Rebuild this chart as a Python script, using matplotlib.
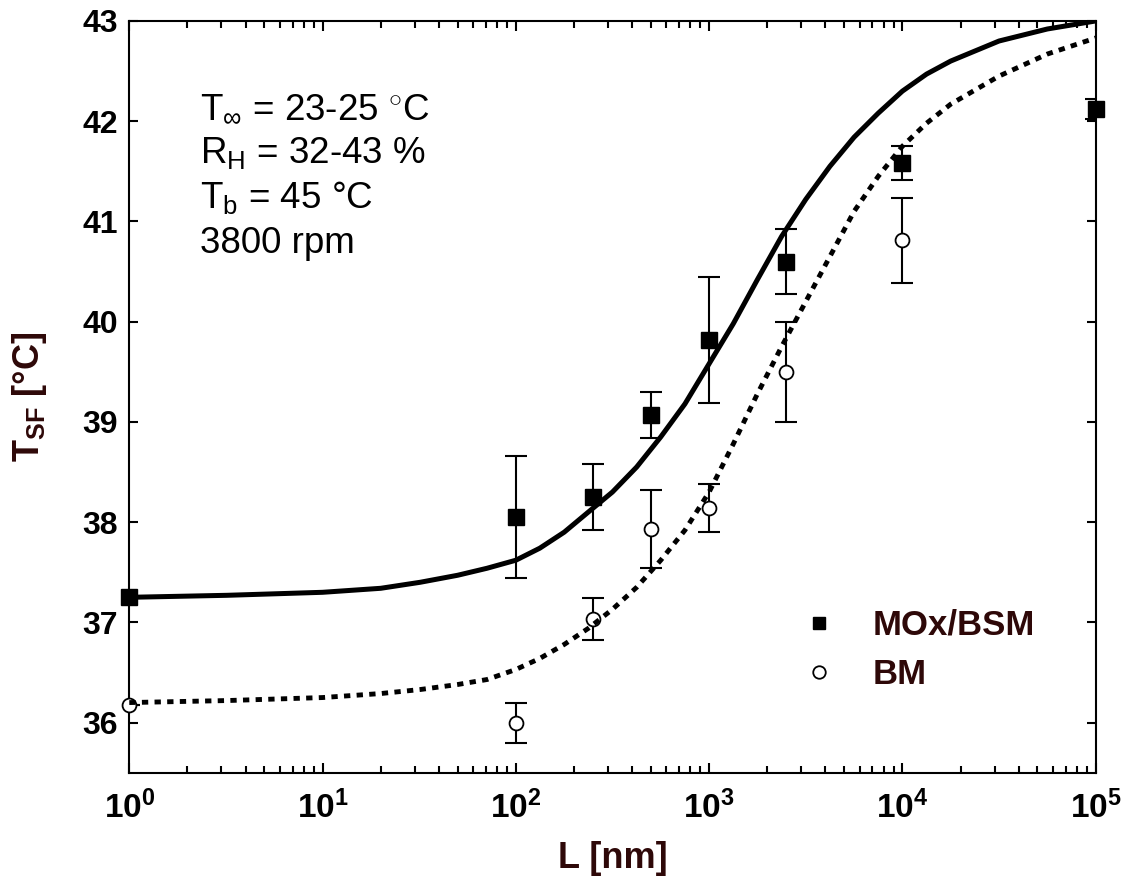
import math
import matplotlib
matplotlib.use('Agg')
from matplotlib import pyplot as plt
from matplotlib.lines import Line2D
from matplotlib.ticker import FixedLocator, FuncFormatter, LogLocator, NullFormatter

plt.rcParams['font.family'] = ['Liberation Sans', 'DejaVu Sans']
plt.rcParams['mathtext.fontset'] = 'custom'
plt.rcParams['mathtext.rm'] = 'Liberation Sans'
plt.rcParams['mathtext.it'] = 'Liberation Sans:italic'
plt.rcParams['mathtext.bf'] = 'Liberation Sans:bold'

# measured points (L in nm, T_SF in deg C)
MOX_L = [1, 100, 250, 500, 1000, 2500, 10000, 100000]
MOX_T = [37.25, 38.05, 38.25, 39.07, 39.82, 40.6, 41.58, 42.12]
MOX_ERR = [0.0, 0.61, 0.33, 0.23, 0.63, 0.32, 0.17, 0.1]

BM_L = [1, 100, 250, 500, 1000, 2500, 10000]
BM_T = [36.18, 36.0, 37.03, 37.93, 38.14, 39.5, 40.81]
BM_ERR = [0.0, 0.2, 0.21, 0.39, 0.24, 0.5, 0.42]

# model curves
FIT_L = [1, 3.2, 10, 20, 32, 50, 71, 100, 133, 178, 237, 316, 422, 562, 750,
         1000, 1334, 1778, 2371, 3162, 4217, 5623, 7499, 10000, 13335, 17783,
         31623, 56234, 100000]
FIT_MOX_T = [37.25, 37.27, 37.30, 37.34, 37.40, 37.47, 37.54, 37.62, 37.74,
             37.90, 38.10, 38.30, 38.55, 38.85, 39.18, 39.58, 39.98, 40.42,
             40.85, 41.22, 41.55, 41.84, 42.08, 42.30, 42.47, 42.60, 42.80,
             42.92, 43.0]
FIT_BM_T = [36.20, 36.22, 36.25, 36.29, 36.33, 36.38, 36.43, 36.53, 36.64,
            36.78, 36.94, 37.13, 37.35, 37.62, 37.92, 38.30, 38.78, 39.28,
            39.75, 40.20, 40.65, 41.10, 41.45, 41.75, 41.98, 42.17, 42.45,
            42.67, 42.83]

INFO_LINES = [r'T$_{\infty}$ = 23-25 $^{\circ}$C',
              r'R$_{\mathrm{H}}$ = 32-43 %',
              r'T$_{\mathrm{b}}$ = 45 °C',
              '3800 rpm']
DECADES = [0, 1, 2, 3, 4, 5]
Y_TICKS = [36, 37, 38, 39, 40, 41, 42, 43]

LABEL_COLOR = '#2e0808'

fig = plt.figure(figsize=(11.27, 8.81), dpi=100)
ax = fig.add_axes([0.1147, 0.1229, 0.8575, 0.8533])

# error bars clip at the frame, markers do not
ax.errorbar(MOX_L, MOX_T, yerr=MOX_ERR, fmt='none', ecolor='black',
            elinewidth=1.5, capsize=8, capthick=1.5, zorder=2)
ax.errorbar(BM_L, BM_T, yerr=BM_ERR, fmt='none', ecolor='black',
            elinewidth=1.5, capsize=8, capthick=1.5, zorder=2)
ax.plot(MOX_L, MOX_T, ls='none', marker='s', ms=11, mfc='black', mec='black',
        clip_on=False, zorder=3)
ax.plot(BM_L, BM_T, ls='none', marker='o', ms=10, mfc='white', mec='black',
        mew=1.3, clip_on=False, zorder=3)

ax.plot(FIT_L, FIT_MOX_T, color='black', lw=3.6, zorder=4)
ax.plot(FIT_L, FIT_BM_T, color='black', lw=3.5, ls=(0, (1.3, 1.3)), zorder=4)

ax.set_xscale('log')
ax.set_xlim(1, 1e5)
ax.set_ylim(35.5, 43)

ax.xaxis.set_major_locator(FixedLocator([10 ** d for d in DECADES]))
ax.xaxis.set_major_formatter(FuncFormatter(lambda v, p: r'$\mathbf{10^{%d}}$' % round(math.log10(v))))
ax.xaxis.set_minor_locator(LogLocator(base=10, subs=range(2, 10)))
ax.xaxis.set_minor_formatter(NullFormatter())
ax.yaxis.set_major_locator(FixedLocator(Y_TICKS))

ax.tick_params(which='both', direction='in', top=True, right=True, width=1.5)
ax.tick_params(axis='x', which='major', length=7.5, pad=13, labelsize=24)
ax.tick_params(axis='x', which='minor', length=5)
ax.tick_params(axis='y', which='major', length=6.5, pad=8, labelsize=23)
for lbl in ax.get_yticklabels():
    lbl.set_fontweight('bold')
for sp in ax.spines.values():
    sp.set_linewidth(1.5)

ax.set_xlabel('L [nm]', fontsize=26, fontweight='bold', color=LABEL_COLOR, labelpad=11)
ax.set_ylabel(r'T$_{\mathbf{SF}}$ [°C]', fontsize=26, fontweight='bold',
              color=LABEL_COLOR, labelpad=24)

for i, line in enumerate(INFO_LINES):
    ax.text(0.0732, 0.871 - 0.06 * i, line, transform=ax.transAxes,
            fontsize=26.5, va='baseline')

handles = [Line2D([], [], ls='none', marker='s', ms=9, mfc='black', mec='black'),
           Line2D([], [], ls='none', marker='o', ms=9, mfc='white', mec='black', mew=1.3)]
ax.legend(handles, ['MOx/BSM', 'BM'], loc='upper left', bbox_to_anchor=(0.696, 0.218),
          frameon=False, borderpad=0, borderaxespad=0, handlelength=1.0,
          handletextpad=1.05, labelspacing=0.46,
          prop={'size': 25, 'weight': 'bold'}, labelcolor=LABEL_COLOR)

fig.savefig('out.png', dpi=100)
